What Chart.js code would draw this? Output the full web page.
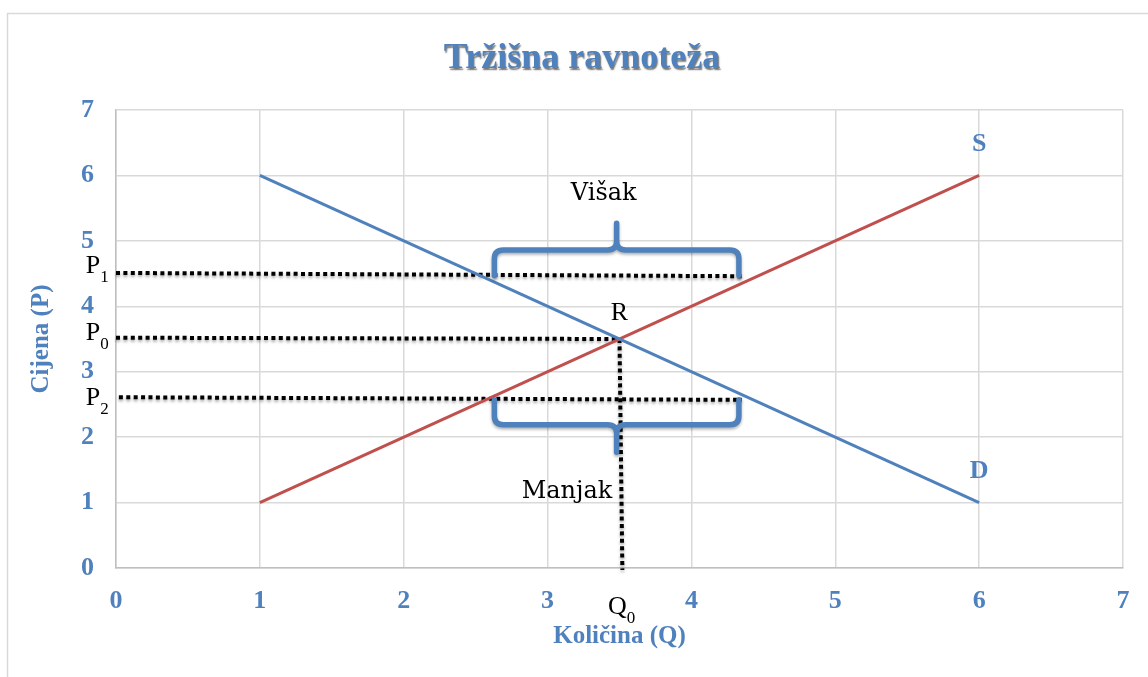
<!DOCTYPE html>
<html>
<head>
<meta charset="utf-8">
<script src="https://cdn.jsdelivr.net/npm/chart.js@4/dist/chart.umd.min.js"></script>
<style>
  html, body { margin: 0; padding: 0; background: #fff; }
  #okvir { width: 1148px; height: 677px; }
</style>
</head>
<body>
<div id="okvir"><canvas id="grafRavnoteza" width="1148" height="677"></canvas></div>
<script>
// Podaci očitani sa slike
var osX = [0, 7];            // raspon količine
var osY = [0, 7];            // raspon cijene
var kolicina = [1, 6];
var potraznja = [6, 1];      // D
var ponuda = [1, 6];         // S

// Isprekidane linije (P1, P0, P2, Q0)
var p1X = [0, 4.35], p1Y = [4.51, 4.46];
var p0X = [0, 3.5], p0Y = [3.52, 3.5];
var p2X = [0.02, 4.35], p2Y = [2.61, 2.57];
var q0X = [3.5, 3.52], q0Y = [3.5, -0.03];

// Vitičaste zagrade: od, do, kraj na liniji, greda, vrh
var zagradaVisak = [2.63, 4.33, 4.47, 4.86, 5.27, 3.48];
var zagradaManjak = [2.63, 4.33, 2.57, 2.19, 1.77, 3.48];

var plava = '#4F81BD';
var crvena = '#C0504D';

function tocke(xs, ys) {
    var t = [];
    for (var i = 0; i < xs.length; i++) t.push({ x: xs[i], y: ys[i] });
    return t;
}

function isprekidana(xs, ys) {
    return {
        data: tocke(xs, ys),
        showLine: true,
        borderColor: '#000',
        borderWidth: 4,
        borderDash: [4, 3.4],
        pointRadius: 0,
        clip: false,
        sjena: true
    };
}

// Natpisi u koordinatama grafa
var natpisi = [
    { t: 'S', x: 6, y: 6.47, font: 'bold 26px "Liberation Serif"', boja: plava, align: 'center', base: 'middle' },
    { t: 'D', x: 6, y: 1.48, font: 'bold 26px "Liberation Serif"', boja: plava, align: 'center', base: 'middle' },
    { t: 'R', x: 3.5, y: 3.79, font: '26px "Liberation Serif"', boja: '#000', align: 'center', base: 'alphabetic' },
    { t: 'Višak', x: 3.39, y: 5.62, font: '24px "DejaVu Serif"', boja: '#000', align: 'center', base: 'alphabetic' },
    { t: 'Manjak', x: 3.45, y: 1.07, font: '24px "DejaVu Serif"', boja: '#000', align: 'right', base: 'alphabetic' }
];
var indeksi = [
    { t: 'P', s: '1', x: -0.21, y: 4.51 },
    { t: 'P', s: '0', x: -0.21, y: 3.48 },
    { t: 'P', s: '2', x: -0.21, y: 2.49 },
    { t: 'Q', s: '0', x: 3.42, y: -0.70 }
];

var sjenaPlugin = {
    id: 'sjena',
    beforeDatasetDraw: function (chart, args) {
        var ctx = chart.ctx;
        ctx.save();
        if (args.meta._dataset.sjena) {
            ctx.shadowColor = 'rgba(0,0,0,0.35)';
            ctx.shadowBlur = 3;
            ctx.shadowOffsetY = 2;
        }
    },
    afterDatasetDraw: function (chart) {
        chart.ctx.restore();
    }
};

var ukrasiPlugin = {
    id: 'ukrasi',
    beforeDraw: function (chart) {
        var ctx = chart.ctx;
        ctx.save();
        ctx.fillStyle = '#fff';
        ctx.fillRect(0, 0, chart.width, chart.height);
        ctx.strokeStyle = '#d9d9d9';
        ctx.lineWidth = 1.5;
        ctx.strokeRect(7.5, 13.5, chart.width + 10, chart.height + 10);
        // naslov
        ctx.font = 'bold 36px "Liberation Serif"';
        ctx.textAlign = 'center';
        ctx.textBaseline = 'alphabetic';
        ctx.shadowColor = 'rgba(0,0,0,0.55)';
        ctx.shadowOffsetX = 1;
        ctx.shadowOffsetY = 1.5;
        ctx.shadowBlur = 1.5;
        ctx.fillStyle = plava;
        ctx.fillText('Tržišna ravnoteža', 582, 68);
        ctx.restore();
    },
    afterDatasetsDraw: function (chart) {
        var ctx = chart.ctx;
        var sx = chart.scales.x, sy = chart.scales.y;
        ctx.save();
        // zagrade
        [zagradaVisak, zagradaManjak].forEach(function (z) {
            var x1 = sx.getPixelForValue(z[0]), x2 = sx.getPixelForValue(z[1]);
            var yb = sy.getPixelForValue(z[2]), yg = sy.getPixelForValue(z[3]);
            var yv = sy.getPixelForValue(z[4]), xv = sx.getPixelForValue(z[5]);
            var d = yg < yb ? 1 : -1; // smjer od grede prema liniji
            var r = 9;
            ctx.save();
            ctx.shadowColor = 'rgba(0,0,0,0.3)';
            ctx.shadowBlur = 3;
            ctx.shadowOffsetY = 2;
            ctx.strokeStyle = plava;
            ctx.lineWidth = 5.5;
            ctx.lineCap = 'round';
            ctx.lineJoin = 'round';
            ctx.beginPath();
            ctx.moveTo(x1, yb);
            ctx.lineTo(x1, yg + d * r);
            ctx.quadraticCurveTo(x1, yg, x1 + r, yg);
            ctx.lineTo(xv - r, yg);
            ctx.quadraticCurveTo(xv, yg, xv, yg - d * r);
            ctx.lineTo(xv, yv);
            ctx.moveTo(xv, yg - d * r);
            ctx.quadraticCurveTo(xv, yg, xv + r, yg);
            ctx.lineTo(x2 - r, yg);
            ctx.quadraticCurveTo(x2, yg, x2, yg + d * r);
            ctx.lineTo(x2, yb);
            ctx.stroke();
            ctx.restore();
        });
        // natpisi
        natpisi.forEach(function (n) {
            ctx.font = n.font;
            ctx.fillStyle = n.boja;
            ctx.textAlign = n.align;
            ctx.textBaseline = n.base;
            ctx.fillText(n.t, sx.getPixelForValue(n.x), sy.getPixelForValue(n.y));
        });
        indeksi.forEach(function (n) {
            var px = sx.getPixelForValue(n.x), py = sy.getPixelForValue(n.y);
            ctx.fillStyle = '#000';
            ctx.textAlign = 'left';
            ctx.textBaseline = 'alphabetic';
            ctx.font = '26px "Liberation Serif"';
            ctx.fillText(n.t, px, py);
            var w = ctx.measureText(n.t).width;
            ctx.font = '17px "Liberation Serif"';
            ctx.fillText(n.s, px + w, py + 9);
        });
        ctx.restore();
    }
};

var fontOsi = { family: '"Liberation Serif"', size: 26, weight: 'bold' };
var fontNaslovOsi = { family: '"Liberation Serif"', size: 25, weight: 'bold' };

var graf = new Chart(document.getElementById('grafRavnoteza').getContext('2d'), {
    type: 'scatter',
    data: {
        datasets: [
            { data: tocke(kolicina, potraznja), showLine: true, borderColor: plava, borderWidth: 3, pointRadius: 0 },
            { data: tocke(kolicina, ponuda), showLine: true, borderColor: crvena, borderWidth: 3, pointRadius: 0 },
            isprekidana(p1X, p1Y),
            isprekidana(p0X, p0Y),
            isprekidana(p2X, p2Y),
            isprekidana(q0X, q0Y)
        ]
    },
    options: {
        responsive: false,
        animation: false,
        layout: { padding: { top: 110, right: 25, left: 0, bottom: 0 } },
        plugins: { legend: { display: false }, tooltip: { enabled: false } },
        scales: {
            x: {
                type: 'linear',
                min: osX[0], max: osX[1],
                ticks: { stepSize: 1, color: plava, font: fontOsi, padding: 18 },
                grid: { color: '#d9d9d9', lineWidth: 1.5, drawTicks: false },
                border: { color: '#bfbfbf', width: 1.5 },
                title: { display: true, text: 'Količina (Q)', color: plava, font: fontNaslovOsi, padding: { top: 0, bottom: 25 } },
                afterFit: function (s) { s.height = 109; }
            },
            y: {
                type: 'linear',
                min: osY[0], max: osY[1],
                ticks: { stepSize: 1, color: plava, font: fontOsi, padding: 22 },
                grid: { color: '#d9d9d9', lineWidth: 1.5, drawTicks: false },
                border: { color: '#bfbfbf', width: 1.5 },
                title: { display: true, text: 'Cijena (P)', color: plava, font: fontNaslovOsi, padding: { top: 27, bottom: 0 } },
                afterFit: function (s) { s.width = 116; }
            }
        }
    },
    plugins: [sjenaPlugin, ukrasiPlugin]
});
</script>
</body>
</html>
